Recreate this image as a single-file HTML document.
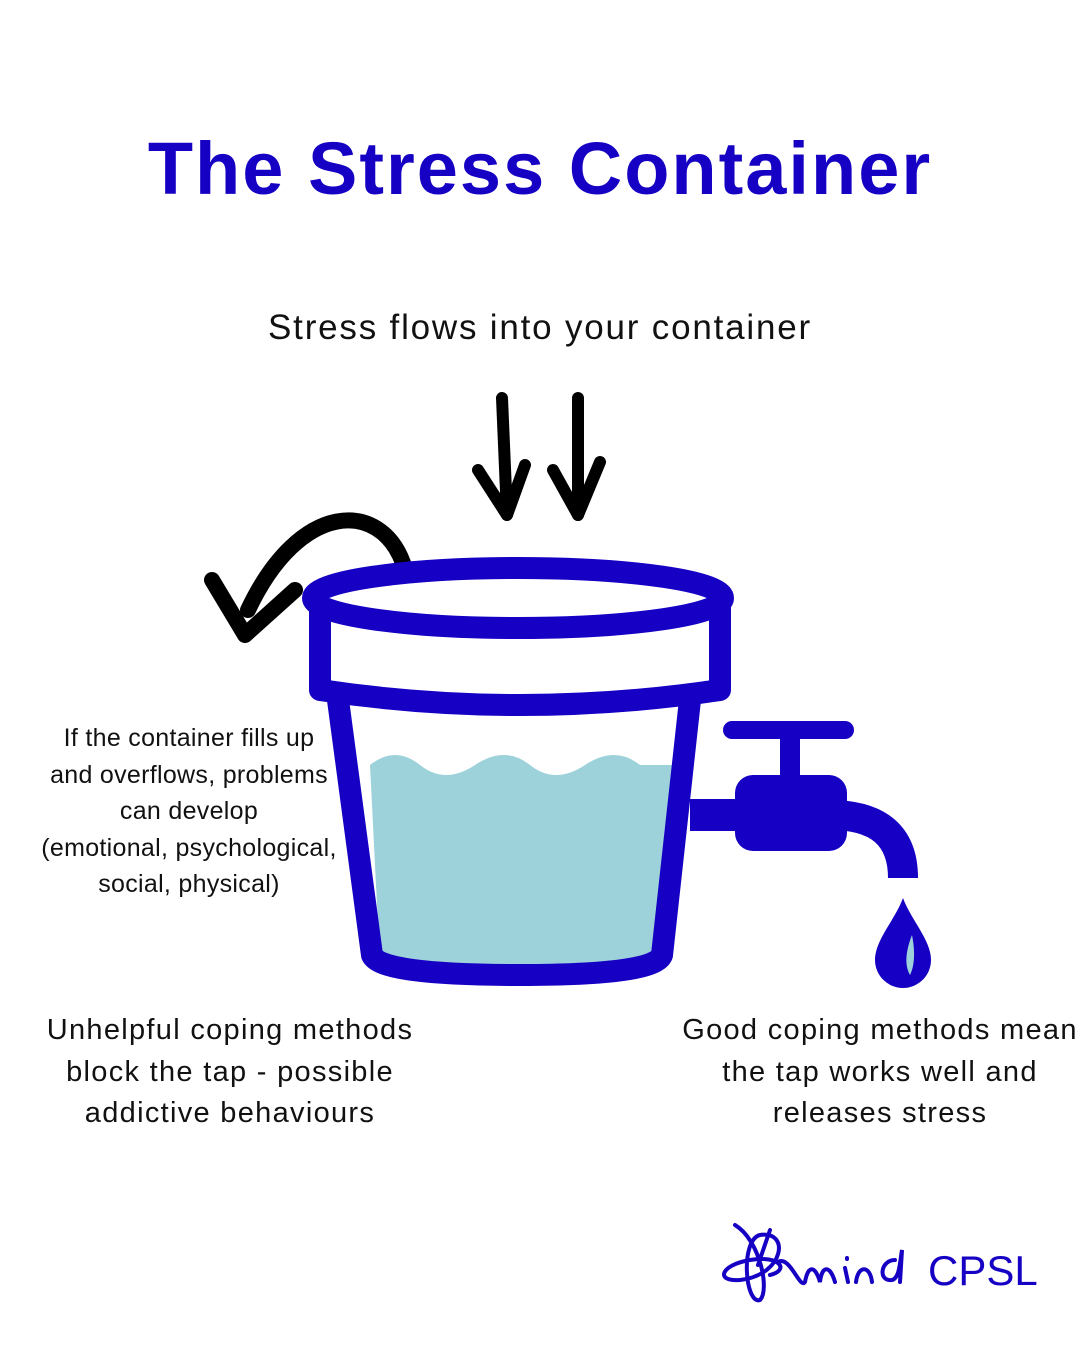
<!DOCTYPE html>
<html><head><meta charset="utf-8"><style>
html,body{margin:0;padding:0;background:#fff}
body{width:1080px;height:1350px;position:relative;overflow:hidden;font-family:"Liberation Sans",sans-serif}
.t{position:absolute;text-align:center;color:#111;white-space:nowrap}
</style></head><body>
<div class="t" style="left:0;width:1080px;top:126px;font-size:74px;font-weight:bold;color:#1600c4;letter-spacing:2px">The Stress Container</div>
<div class="t" style="left:0;width:1080px;top:308px;font-size:35px;letter-spacing:1.8px">Stress flows into your container</div>
<div class="t" style="left:-1px;width:380px;top:720px;font-size:25px;line-height:36.5px;letter-spacing:0.3px">If the container fills up<br>and overflows, problems<br>can develop<br>(emotional, psychological,<br>social, physical)</div>
<div class="t" style="left:10px;width:440px;top:1010px;font-size:29px;line-height:41.5px;letter-spacing:1.3px">Unhelpful coping methods<br>block the tap - possible<br>addictive behaviours</div>
<div class="t" style="left:660px;width:440px;top:1010px;font-size:29px;line-height:41.5px;letter-spacing:1.3px">Good coping methods mean<br>the tap works well and<br>releases stress</div>
<svg width="1080" height="1350" style="position:absolute;left:0;top:0">
<g fill="none" stroke="#000" stroke-width="12" stroke-linecap="round" stroke-linejoin="round">
<path d="M502 398 L507 515"/><path d="M478 470 L507 515 L525 465"/>
<path d="M578 398 L578 515"/><path d="M553 470 L578 515 L600 462"/>
<path d="M403 563 C380 500 300 500 248 610" stroke-width="16"/>
<path d="M212 580 L245 635 L295 590" stroke-width="16"/>
</g>
<path d="M370 765 Q395 745 420 765 T475 765 T530 765 T585 765 T640 765 L672 765 L662 965 L380 965 Z" fill="#9dd2db"/>
<g fill="none" stroke="#1600c4" stroke-linejoin="round">
<path d="M338 700 L372 955 Q380 975 520 975 Q655 975 662 955 L690 700" stroke-width="22"/>
<path d="M320 600 L320 690 Q520 720 720 690 L720 600" stroke-width="22"/>
<ellipse cx="518" cy="598" rx="205" ry="30" stroke-width="22" fill="#fff"/>
<path d="M690 815 L760 815" stroke-width="32"/>
<path d="M790 735 L790 780" stroke-width="20"/>
<path d="M732 730 L845 730" stroke-width="18" stroke-linecap="round"/>
<path d="M830 815 Q903 815 903 878" stroke-width="30"/>
</g>
<rect x="735" y="775" width="112" height="76" rx="18" fill="#1600c4"/>
<path d="M903 898 C895 920 875 940 875 960 A28 28 0 0 0 931 960 C931 940 911 920 903 898Z" fill="#1600c4"/>
<path d="M912 935 C906 950 904 965 910 975 C915 965 915 950 912 935Z" fill="#9dd2db"/>
<g fill="none" stroke="#1600c4" stroke-width="4" stroke-linecap="round">
<path d="M735 1225 C760 1240 770 1290 760 1300 C745 1305 740 1240 760 1235 C790 1230 785 1275 740 1280 C715 1282 720 1265 750 1260 C780 1255 790 1270 770 1275"/>
<path d="M770 1230 L758 1265 M778 1262 C790 1255 800 1290 805 1282 C808 1265 815 1265 820 1282 C822 1265 830 1265 835 1282 M845 1268 L848 1282 M847 1258 l0 1 M856 1282 C858 1265 870 1265 872 1282 M895 1260 C880 1260 878 1282 892 1280 C900 1278 900 1260 902 1250 L900 1282"/>
</g>
<text x="928" y="1285" font-family="Liberation Sans,sans-serif" font-size="42" fill="#1600c4">CPSL</text>
</svg>
</body></html>
